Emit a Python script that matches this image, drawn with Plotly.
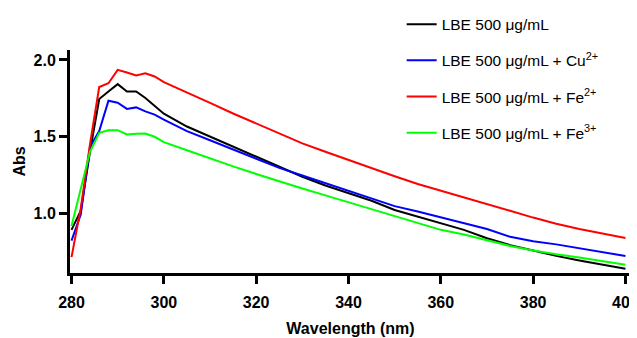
import plotly.graph_objects as go

wavelength = [280, 282, 284, 286, 288, 290, 292, 294, 296, 298, 300,
              305, 310, 315, 320, 325, 330, 335, 340, 345, 350,
              355, 360, 365, 370, 375, 380, 385, 390, 395, 400]

lbe = [0.89, 1.015, 1.40, 1.745, 1.794, 1.842, 1.794, 1.794, 1.751, 1.697, 1.649,
       1.565, 1.50, 1.43, 1.37, 1.30, 1.237, 1.18, 1.13, 1.08, 1.02,
       0.975, 0.932, 0.89, 0.835, 0.79, 0.755, 0.72, 0.69, 0.662, 0.636]

lbe_cu = [0.82, 0.99, 1.43, 1.535, 1.734, 1.721, 1.68, 1.69, 1.664, 1.643, 1.61,
          1.535, 1.475, 1.415, 1.355, 1.295, 1.245, 1.195, 1.145, 1.095, 1.045,
          1.01, 0.97, 0.935, 0.895, 0.845, 0.815, 0.795, 0.768, 0.745, 0.719]

lbe_fe2 = [0.712, 1.03, 1.45, 1.823, 1.848, 1.935, 1.918, 1.898, 1.913, 1.892, 1.855,
           1.79, 1.72, 1.65, 1.585, 1.515, 1.455, 1.40, 1.345, 1.29, 1.24,
           1.19, 1.145, 1.105, 1.06, 1.015, 0.97, 0.93, 0.895, 0.865, 0.836]

lbe_fe3 = [0.915, 1.16, 1.40, 1.524, 1.541, 1.541, 1.513, 1.517, 1.519, 1.498, 1.463,
           1.41, 1.355, 1.305, 1.255, 1.205, 1.16, 1.115, 1.07, 1.025, 0.975,
           0.93, 0.89, 0.86, 0.825, 0.785, 0.755, 0.73, 0.71, 0.685, 0.662]

names = ["LBE 500 μg/mL",
         "LBE 500 μg/mL + Cu<sup>2+</sup>",
         "LBE 500 μg/mL + Fe<sup>2+</sup>",
         "LBE 500 μg/mL + Fe<sup>3+</sup>"]
colors = ["#000000", "#0000FF", "#FF0000", "#00FF00"]
series = [lbe, lbe_cu, lbe_fe2, lbe_fe3]

fig = go.Figure()
for i, (nm, col, ys) in enumerate(zip(names, colors, series)):
    fig.add_trace(go.Scatter(x=wavelength, y=ys, mode="lines", name=nm,
                             legendgroup=f"g{i}",
                             line=dict(color=col, width=2)))

font_family = "Liberation Sans, Arial, sans-serif"
tick_font = dict(size=16, family=font_family, weight="bold", color="black")
# the page body adds an 8px offset, so the figure is 8px smaller than the window
fig.update_layout(
    width=629, height=330,
    margin=dict(l=62, r=6, t=42, b=64.5, autoexpand=False),
    paper_bgcolor="white", plot_bgcolor="white",
    font=dict(family=font_family, color="black"),
    legend=dict(x=0.5912, y=1.19, xanchor="left", yanchor="top",
                font=dict(size=15.5, family=font_family, color="black"),
                tracegroupgap=13, bgcolor="rgba(0,0,0,0)"),
    xaxis=dict(range=[279.67, 401.2], tickmode="array",
               tickvals=[280, 300, 320, 340, 360, 380, 400],
               ticks="outside", ticklen=8, tickwidth=2.5, tickcolor="black",
               ticklabelstandoff=5, ticklabeloverflow="allow",
               showline=True, linewidth=3, linecolor="black",
               showgrid=False, zeroline=False,
               tickfont=tick_font,
               title=dict(text="<b>Wavelength (nm)</b>", font=dict(size=16), standoff=13)),
    yaxis=dict(range=[0.608, 2.065], tickmode="array",
               tickvals=[1.0, 1.5, 2.0], ticktext=["1.0", "1.5", "2.0"],
               ticks="outside", ticklen=8, tickwidth=2.5, tickcolor="black",
               showline=True, linewidth=3, linecolor="black",
               showgrid=False, zeroline=False,
               tickfont=tick_font,
               title=dict(text="<b>Abs</b>", font=dict(size=16), standoff=4)),
)

fig.write_html("out.html")
